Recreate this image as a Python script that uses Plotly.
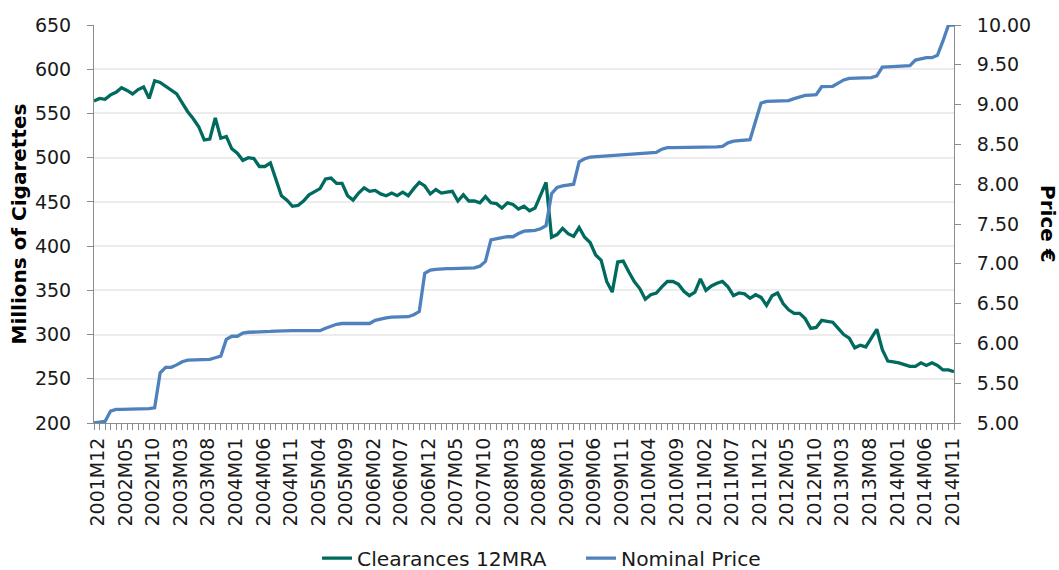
import plotly.graph_objects as go

# Monthly categories 2001M12 .. 2014M12
months = []
y, m = 2001, 12
while (y, m) <= (2014, 12):
    months.append(f"{y}M{m:02d}")
    m += 1
    if m > 12:
        m = 1
        y += 1

clearances = [
    564, 567, 566, 571, 574, 579, 576, 572, 577, 580,
    567, 587, 585, 581, 577, 572, 562, 552, 544, 535,
    520, 521, 545, 522, 524, 510, 505, 497, 500, 499,
    490, 490, 494, 475, 457, 452, 445, 446, 451, 458,
    461, 465, 476, 477, 471, 471, 457, 452, 460, 466,
    462, 463, 459, 457, 460, 457, 461, 457, 465, 472,
    468, 459, 464, 460, 461, 462, 451, 458, 451, 451,
    449, 456, 449, 448, 443, 449, 447, 442, 445, 440,
    443, 458, 472, 410, 413, 420, 414, 411, 421, 410,
    404, 390, 384, 360, 348, 382, 383, 371, 360, 352,
    340, 345, 347, 354, 360, 360, 357, 349, 344, 348,
    363, 350, 355, 358, 360, 354, 344, 347, 346, 341,
    345, 342, 333, 344, 347, 335, 328, 324, 324, 318,
    307, 308, 316, 315, 314, 307, 300, 296, 285, 288,
    286, 296, 306, 283, 270, 269, 268, 266, 264, 264,
    268, 265, 268, 265, 260, 260, 258,
]

nominal_price = [
    5.00, 5.01, 5.02, 5.15, 5.17, 5.17, 5.17, 5.17, 5.17, 5.17,
    5.18, 5.19, 5.63, 5.70, 5.70, 5.73, 5.77, 5.79, 5.79, 5.79,
    5.79, 5.80, 5.82, 5.84, 6.05, 6.09, 6.09, 6.13, 6.14, 6.14,
    6.145, 6.15, 6.15, 6.155, 6.16, 6.16, 6.16, 6.16, 6.16, 6.16,
    6.16, 6.16, 6.19, 6.22, 6.24, 6.25, 6.25, 6.25, 6.25, 6.25,
    6.25, 6.29, 6.31, 6.32, 6.33, 6.33, 6.33, 6.335, 6.36, 6.40,
    6.88, 6.92, 6.93, 6.94, 6.94, 6.94, 6.945, 6.945, 6.945, 6.95,
    6.97, 7.03, 7.30, 7.32, 7.33, 7.34, 7.34, 7.38, 7.41, 7.415,
    7.42, 7.44, 7.48, 7.88, 7.96, 7.98, 7.99, 8.00, 8.28, 8.32,
    8.34, 8.345, 8.35, 8.355, 8.36, 8.37, 8.375, 8.38, 8.385, 8.39,
    8.39, 8.395, 8.40, 8.44, 8.46, 8.46, 8.46, 8.465, 8.465, 8.47,
    8.47, 8.47, 8.47, 8.47, 8.475, 8.52, 8.54, 8.55, 8.555, 8.56,
    8.79, 9.02, 9.04, 9.04, 9.04, 9.045, 9.05, 9.075, 9.10, 9.115,
    9.12, 9.125, 9.225, 9.23, 9.23, 9.27, 9.31, 9.33, 9.335, 9.34,
    9.34, 9.34, 9.36, 9.47, 9.475, 9.48, 9.48, 9.485, 9.49, 9.56,
    9.58, 9.59, 9.59, 9.62, 9.80, 10.0, 10.0,
]

label_step = 5
tick_labels = months[::label_step]

xs = list(range(len(months)))
tick_positions = xs[::label_step]

FONT = "DejaVu Sans, Verdana, sans-serif"
TXT = "#1a1a1a"
AX = "#8c8c8c"
GRID = "#ececec"
FS = 19
LFS = 20.3

PL, PR, PT, PB = 94, 954, 25, 423
PW, PH = PR - PL, PB - PT

fig = go.Figure()
fig.add_trace(go.Scatter(
    x=xs, y=clearances, name="Clearances 12MRA", mode="lines",
    line=dict(color="#006a5f", width=3.3), customdata=months,
    hovertemplate="%{customdata}: %{y}<extra></extra>", legend="legend",
))
fig.add_trace(go.Scatter(
    x=xs, y=nominal_price, name="Nominal Price", mode="lines",
    line=dict(color="#4f81bd", width=3.3), yaxis="y2", customdata=months,
    hovertemplate="%{customdata}: %{y:.2f}<extra></extra>", legend="legend2",
))

legend_y = (PB - 558.5) / PH

fig.update_layout(
    width=1059, height=570,
    margin=dict(l=PL, r=1059 - PR, t=PT, b=570 - PB, autoexpand=False),
    paper_bgcolor="white", plot_bgcolor="white",
    font=dict(family=FONT, size=FS, color=TXT),
    showlegend=True,
    legend=dict(orientation="h", x=(317 - PL) / PW, xanchor="left", y=legend_y, yanchor="middle",
                font=dict(size=LFS), bgcolor="rgba(0,0,0,0)"),
    legend2=dict(orientation="h", x=(581 - PL) / PW, xanchor="left", y=legend_y, yanchor="middle",
                 font=dict(size=LFS), bgcolor="rgba(0,0,0,0)"),
    xaxis=dict(
        range=[0, len(months) - 1], tickmode="array",
        tickvals=tick_positions, ticktext=tick_labels, tickangle=-90,
        showgrid=False, zeroline=False, automargin=False,
        showline=True, linecolor=AX, linewidth=1,
        ticks="outside", ticklen=6, tickcolor=AX, tickwidth=1,
        ticklabelstandoff=0, ticklabelshift=4,
        minor=dict(dtick=1, tick0=0, ticks="outside", ticklen=6, tickcolor=AX, tickwidth=1, showgrid=False),
        tickfont=dict(size=FS),
    ),
    yaxis=dict(
        range=[200, 650], dtick=50, tick0=200, automargin=False,
        showgrid=True, gridcolor=GRID, gridwidth=1.5, zeroline=False,
        showline=True, linecolor=AX, linewidth=1,
        ticks="outside", ticklen=6, tickcolor=AX,
        ticklabelstandoff=12,
        tickfont=dict(size=FS),
    ),
    yaxis2=dict(
        range=[5, 10], dtick=0.5, tick0=5, tickformat=".2f", automargin=False,
        overlaying="y", side="right",
        showgrid=False, zeroline=False,
        showline=True, linecolor=AX, linewidth=1,
        ticks="outside", ticklen=6, tickcolor=AX,
        ticklabelstandoff=12,
        tickfont=dict(size=FS),
    ),
    annotations=[
        dict(text="<b>Millions of Cigarettes</b>", xref="paper", yref="paper",
             x=(18.5 - PL) / PW, y=0.5, textangle=-90, showarrow=False,
             xanchor="center", yanchor="middle", font=dict(size=20, family=FONT, color="#000")),
        dict(text="<b>Price €</b>", xref="paper", yref="paper",
             x=(1048 - PL) / PW, y=0.5, textangle=90, showarrow=False,
             xanchor="center", yanchor="middle", font=dict(size=20, family=FONT, color="#000")),
    ],
)

fig.write_html(
    "out.html",
    config={"displayModeBar": False},
    post_script="document.body.style.margin='0';document.body.style.overflow='hidden';",
)
